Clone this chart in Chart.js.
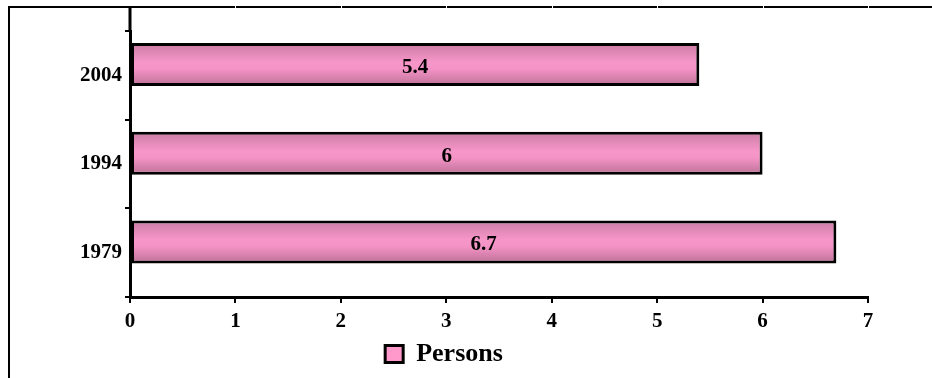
<!DOCTYPE html>
<html>
<head>
<meta charset="utf-8">
<script src="https://cdn.jsdelivr.net/npm/chart.js@4/dist/chart.umd.min.js"></script>
<style>
  html, body { margin: 0; padding: 0; background: #ffffff; }
  canvas { display: block; }
</style>
</head>
<body>
<canvas id="c" width="932" height="378"></canvas>
<script>
// Household size by survey year
const years = ['2004', '1994', '1979'];
const persons = [5.4, 6, 6.7];
const seriesName = 'Persons';
const emptySeries = [null, null, null];
const xTicks = [0, 1, 2, 3, 4, 5, 6, 7];

const FONT = "'Liberation Serif', 'Times New Roman', serif";
const PINK = '#ff99cc';

// vertical shading across each bar's thickness
function barGradient(context) {
  const chart = context.chart;
  const y = chart.scales.y;
  if (!y || context.dataIndex === undefined) return PINK;
  const band = Math.abs(y.getPixelForValue(1) - y.getPixelForValue(0)) || 89;
  const chunk = band * 0.485 / 2;
  const c = y.getPixelForValue(context.dataIndex) - chunk / 2;
  const g = chart.ctx.createLinearGradient(0, c - chunk, 0, c + chunk);
  g.addColorStop(0, '#c97ca4');
  g.addColorStop(0.45, '#f796c9');
  g.addColorStop(0.6, '#f494c6');
  g.addColorStop(1, '#bd7097');
  return g;
}

// outer frame, axis extension and centred value labels
const decorations = {
  id: 'decorations',
  beforeDraw(chart) {
    const ctx = chart.ctx;
    const area = chart.chartArea;
    ctx.save();
    ctx.strokeStyle = '#000000';
    ctx.lineWidth = 2;
    ctx.beginPath();
    ctx.moveTo(9, 378);
    ctx.lineTo(9, 7);
    ctx.lineTo(932, 7);
    ctx.stroke();
    ctx.lineWidth = 3;
    ctx.beginPath();
    ctx.moveTo(area.left, 6);
    ctx.lineTo(area.left, area.top);
    ctx.stroke();
    // faint breaks in the frame above each value tick
    const xs = chart.scales.x;
    ctx.strokeStyle = '#ffffff';
    ctx.lineWidth = 1;
    xTicks.slice(1).forEach(v => {
      const px = Math.round(xs.getPixelForValue(v)) + 0.5;
      ctx.beginPath();
      ctx.moveTo(px, 6);
      ctx.lineTo(px, 8);
      ctx.stroke();
    });
    ctx.restore();
  },
  afterDatasetsDraw(chart) {
    const ctx = chart.ctx;
    const meta = chart.getDatasetMeta(0);
    ctx.save();
    ctx.fillStyle = '#000000';
    ctx.font = 'bold 21px ' + FONT;
    ctx.textAlign = 'center';
    ctx.textBaseline = 'middle';
    meta.data.forEach((bar, i) => {
      const cx = (bar.x + bar.base) / 2;
      ctx.fillText(String(persons[i]), cx, bar.y + 3);
    });
    ctx.restore();
  }
};

new Chart(document.getElementById('c'), {
  type: 'bar',
  data: {
    labels: years,
    datasets: [{
      label: seriesName,
      data: persons,
      backgroundColor: barGradient,
      borderColor: '#000000',
      borderWidth: 3,
      borderSkipped: false,
      // bars overlap their empty neighbour by half, sitting in the upper part of each band
      barPercentage: 2,
      categoryPercentage: 0.485
    }, {
      label: '',
      data: emptySeries,
      backgroundColor: 'rgba(0,0,0,0)',
      borderWidth: 0,
      barPercentage: 2,
      categoryPercentage: 0.485
    }]
  },
  options: {
    indexAxis: 'y',
    responsive: false,
    animation: false,
    events: [],
    layout: { padding: { left: 20, right: 64, top: 31, bottom: 1 } },
    scales: {
      x: {
        type: 'linear',
        min: 0,
        max: 7,
        afterBuildTicks(scale) { scale.ticks = xTicks.map(v => ({ value: v })); },
        afterFit(scale) { scale.height = 34; },
        border: { display: true, color: '#000000', width: 3 },
        grid: { drawOnChartArea: false, drawTicks: true, tickLength: 6, color: '#000000', lineWidth: 2 },
        ticks: { color: '#000000', padding: 6, font: { family: FONT, size: 21, weight: 'bold' } }
      },
      y: {
        type: 'category',
        afterFit(scale) { scale.width = 110; },
        border: { display: true, color: '#000000', width: 3 },
        grid: { drawOnChartArea: false, drawTicks: true, tickLength: 5, color: '#000000', lineWidth: 2, offset: true },
        ticks: { color: '#000000', padding: 3, font: { family: FONT, size: 21, weight: 'bold' } }
      }
    },
    plugins: {
      legend: {
        display: true,
        position: 'bottom',
        align: 'center',
        labels: {
          boxWidth: 18,
          boxHeight: 17,
          padding: 10,
          color: '#000000',
          font: { family: FONT, size: 26, weight: 'bold' },
          generateLabels() {
            return [{
              text: seriesName,
              fillStyle: PINK,
              strokeStyle: '#000000',
              lineWidth: 3,
              datasetIndex: 0,
              hidden: false
            }];
          }
        }
      },
      tooltip: { enabled: false }
    }
  },
  plugins: [decorations]
});
</script>
</body>
</html>
